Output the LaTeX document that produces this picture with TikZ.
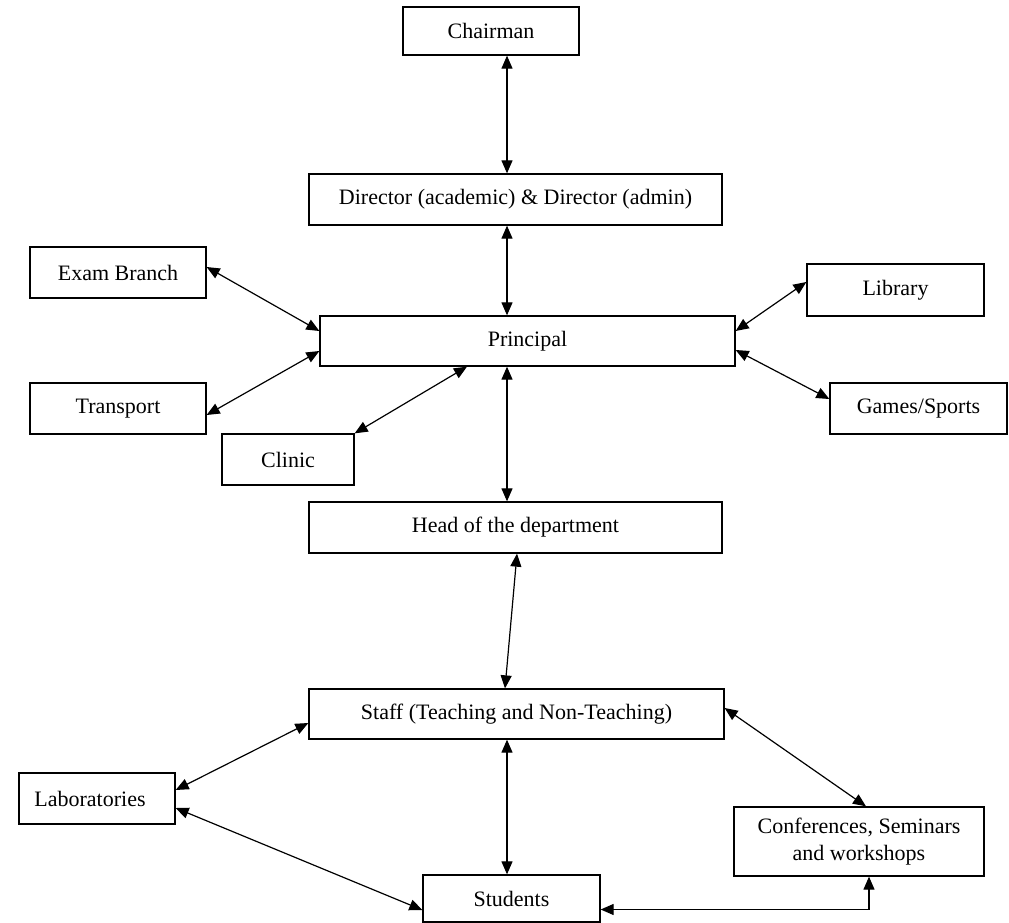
\documentclass[tikz,border=0pt]{standalone}
\usepackage{fontspec}
\setmainfont{Liberation Serif}
\usetikzlibrary{arrows.meta}
\begin{document}
\begin{tikzpicture}[x=1pt,y=-1pt,
  box/.style={draw, line width=1.3pt, inner sep=0pt, minimum height=#1, font=\fontsize{22}{26.5}\selectfont, align=center},
  box/.default=51pt,
  link/.style={line width=1.2pt, {Triangle[length=13pt,width=11pt]}-{Triangle[length=13pt,width=11pt]}}]
\useasboundingbox (0,0) rectangle (1009,923);
\node[box=48pt, minimum width=176pt] (chair) at (491,31) {Chairman};
\node[box, minimum width=413pt] (dir) at (515.5,199.5) {Director (academic) \& Director (admin)};
\node[box, minimum width=176pt] (exam) at (118,272.5) {Exam Branch};
\node[box=52pt, minimum width=177pt] (lib) at (895.5,290) {Library};
\node[box=50pt, minimum width=415pt] (prin) at (527.5,341) {Principal};
\node[box, minimum width=176pt] (trans) at (118,408.5) {Transport};
\node[box, minimum width=177pt] (games) at (918.5,408.5) {Games/Sports};
\node[box, minimum width=132pt] (clinic) at (288,459.5) {Clinic};
\node[box, minimum width=413pt] (head) at (515.5,527.5) {Head of the department};
\node[box=50pt, minimum width=415pt] (staff) at (516.5,714) {Staff (Teaching and Non-Teaching)};
\node[box, minimum width=156pt] (labs) at (97,798.5) {Laboratories\hspace*{14pt}};
\node[box=69pt, minimum width=250pt] (conf) at (859,841.5) {Conferences, Seminars\\and workshops};
\node[box=47pt, minimum width=177pt] (stud) at (511.5,898.5) {Students};
\coordinate (vx) at (507,0);
\draw[link] (chair.south -| vx) -- (dir.north -| vx);
\draw[link] (dir.south -| vx) -- (prin.north -| vx);
\draw[link] (prin.south -| vx) -- (head.north -| vx);
\draw[link] ([xshift=1.5pt]head.south) -- ([xshift=-11.5pt]staff.north);
\draw[link] (staff.south -| vx) -- (stud.north -| vx);
\draw[link] ([yshift=5.5pt]exam.east) -- ([yshift=10pt]prin.west);
\draw[link] ([yshift=-6.5pt]trans.east) -- ([yshift=-10pt]prin.west);
\draw[link] (clinic.north east) -- ([xshift=-60.5pt]prin.south);
\draw[link] ([yshift=10pt]prin.east) -- ([yshift=8pt]lib.west);
\draw[link] ([yshift=-9pt]prin.east) -- ([yshift=9.5pt]games.west);
\draw[link] ([yshift=-9pt]staff.west) -- ([yshift=8.5pt]labs.east);
\draw[link] ([yshift=-9.5pt]labs.east) -- ([yshift=-11.5pt]stud.west);
\draw[link] ([yshift=6pt]staff.east) -- ([xshift=7pt]conf.north);
\draw[link] ([yshift=-11pt]stud.east) -| ([xshift=10pt]conf.south);
\end{tikzpicture}
\end{document}
